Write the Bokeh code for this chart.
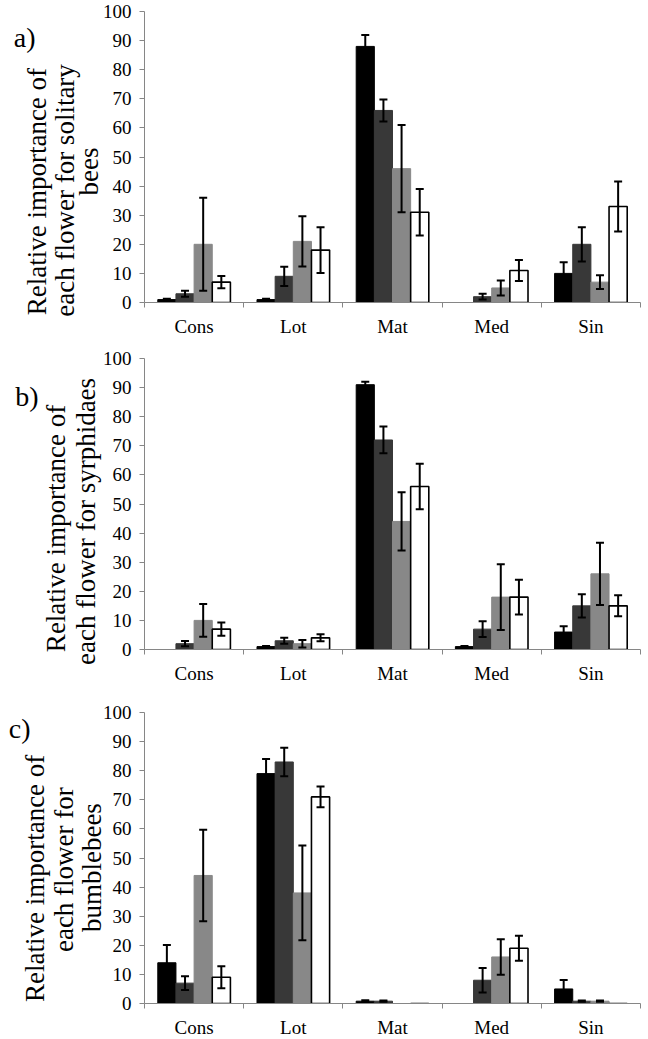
from bokeh.plotting import figure
from bokeh.layouts import column
from bokeh.models import Range1d, FixedTicker, Whisker, ColumnDataSource, TeeHead, LinearAxis
from bokeh.embed import file_html
from bokeh.resources import INLINE

categories = ["Cons", "Lot", "Mat", "Med", "Sin"]
y_ticks = [0, 10, 20, 30, 40, 50, 60, 70, 80, 90, 100]

# four series per panel (black, dark grey, grey, white)
a_black = [1, 1, 88, 0, 10]
a_dark = [3, 9, 66, 2, 20]
a_grey = [20, 21, 46, 5, 7]
a_white = [7, 18, 31, 11, 33]
a_black_err = [0.3, 0.3, 3.9, 0, 3.8]
a_dark_err = [1, 3.3, 3.8, 1, 5.9]
a_grey_err = [16, 8.6, 15, 2.6, 2.4]
a_white_err = [2.1, 7.9, 8, 3.6, 8.6]

b_black = [0, 1, 91, 1, 6]
b_dark = [2, 3, 72, 7, 15]
b_grey = [10, 2, 44, 18, 26]
b_white = [7, 4, 56, 18, 15]
b_black_err = [0, 0.2, 1, 0.2, 2]
b_dark_err = [0.9, 1, 4.6, 2.7, 4]
b_grey_err = [5.6, 1.3, 10, 11.3, 10.7]
b_white_err = [2.3, 1.2, 7.8, 6, 3.6]

c_black = [14, 79, 0.8, 0, 5]
c_dark = [7, 83, 0.8, 8, 0.8]
c_grey = [44, 38, 0, 16, 0.8]
c_white = [9, 71, 0, 19, 0]
c_black_err = [6.1, 5, 0.3, 0, 3.1]
c_dark_err = [2.4, 4.9, 0.2, 4.2, 0.2]
c_grey_err = [15.7, 16.3, 0, 6.1, 0.2]
c_white_err = [3.8, 3.6, 0, 4.3, 0]

panel_letters = ["a)", "b)", "c)"]
a_title = ["Relative importance of", "each flower for solitary", "bees"]
b_title = ["Relative importance of", "each flower for syrphidaes"]
c_title = ["Relative importance of", "each flower for", "bumblebees"]

FONT = "Liberation Serif"
fills = ["#000000", "#383838", "#888888", "#ffffff"]
outlines = ["#000000", "#383838", "#888888", "#000000"]
AXIS = "#868686"
BW = 0.183


def text_axis(at, label, standoff, size, orientation):
    # an invisible axis that only carries one label (title line or panel letter)
    ax = LinearAxis(ticker=FixedTicker(ticks=[at], minor_ticks=[]),
                    major_label_overrides={at: label},
                    axis_line_color=None, major_tick_line_color=None,
                    minor_tick_line_color=None, major_tick_out=0, major_tick_in=0,
                    minor_tick_out=0, minor_tick_in=0,
                    major_label_standoff=standoff,
                    major_label_orientation=orientation,
                    major_label_text_font=FONT, major_label_text_font_size=size,
                    major_label_text_color="black")
    return ax


def make_panel(series, errors, top, bottom, title, title_at, title_off,
               letter, letter_at, letter_off):
    p = figure(frame_width=496, frame_height=291, output_backend="svg",
               toolbar_location=None, x_range=Range1d(0, 5), y_range=Range1d(0, 100),
               min_border_left=144, min_border_right=8, min_border_top=top,
               min_border_bottom=bottom)
    p.outline_line_color = None
    p.xgrid.grid_line_color = None
    p.ygrid.grid_line_color = None
    for j, (vals, errs) in enumerate(zip(series, errors)):
        xs = [i + 0.5 + (j - 1.5) * BW for i in range(len(categories))]
        p.vbar(x=xs, top=vals, width=BW, bottom=0, fill_color=fills[j],
               line_color=outlines[j], line_width=1.6 if j == 3 else 1)
        keep = [k for k in range(len(vals)) if errs[k] > 0]
        src = ColumnDataSource(dict(
            x=[xs[k] for k in keep],
            upper=[vals[k] + errs[k] for k in keep],
            lower=[max(vals[k] - errs[k], 0) for k in keep]))
        w = Whisker(source=src, base="x", upper="upper", lower="lower",
                    line_color="black", line_width=2, level="overlay",
                    upper_head=TeeHead(size=8, line_color="black", line_width=2),
                    lower_head=TeeHead(size=8, line_color="black", line_width=2))
        p.add_layout(w)

    xa = p.xaxis[0]
    xa.ticker = FixedTicker(ticks=[i + 0.5 for i in range(len(categories))],
                            minor_ticks=list(range(len(categories) + 1)))
    xa.major_label_overrides = {i + 0.5: c for i, c in enumerate(categories)}
    xa.major_tick_line_color = None
    xa.major_tick_out = 5
    xa.minor_tick_out = 5
    xa.minor_tick_in = 0
    xa.minor_tick_line_color = AXIS
    xa.axis_line_color = AXIS
    xa.major_label_standoff = 8
    xa.major_label_text_font = FONT
    xa.major_label_text_font_size = "19px"
    xa.major_label_text_color = "black"

    ya = p.yaxis[0]
    ya.ticker = FixedTicker(ticks=y_ticks, minor_ticks=[])
    ya.major_tick_out = 5
    ya.major_tick_in = 0
    ya.major_tick_line_color = AXIS
    ya.axis_line_color = AXIS
    ya.major_label_standoff = 8
    ya.major_label_text_font = FONT
    ya.major_label_text_font_size = "19px"
    ya.major_label_text_color = "black"

    # title lines, innermost (last line) first, then the panel letter outermost
    for line, at, off in reversed(list(zip(title, title_at, title_off))):
        p.add_layout(text_axis(at, line, off, "27px", "vertical"), "left")
    p.add_layout(text_axis(letter_at, letter, letter_off, "28px", "horizontal"), "left")
    return p


pa = make_panel([a_black, a_dark, a_grey, a_white],
                [a_black_err, a_dark_err, a_grey_err, a_white_err], 11, 36,
                a_title, [38.1, 38.5, 45.0], [-5, -9, -5], panel_letters[0], 90.9, -16)
pb = make_panel([b_black, b_dark, b_grey, b_white],
                [b_black_err, b_dark_err, b_grey_err, b_white_err], 19, 40,
                b_title, [41.6, 44.0], [-3, -2], panel_letters[1], 87.1, 0)
pc = make_panel([c_black, c_dark, c_grey, c_white],
                [c_black_err, c_dark_err, c_grey_err, c_white_err], 23, 29,
                c_title, [43.0, 46.0, 46.7], [-4, -5, -8], panel_letters[2], 94.5, -13)

layout = column(pa, pb, pc, spacing=0)
open("out.html", "w").write(file_html(layout, INLINE))
